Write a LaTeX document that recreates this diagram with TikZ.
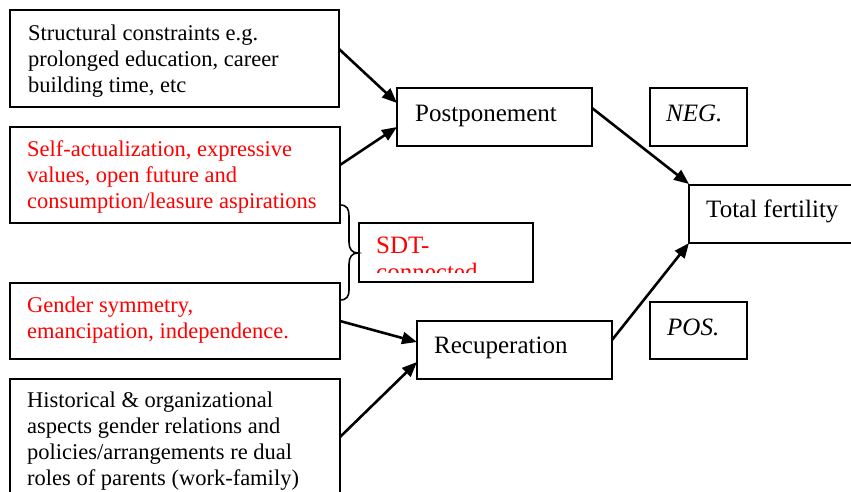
\documentclass[tikz,border=0pt]{standalone}
\usepackage{fontspec}
\setmainfont{Liberation Serif}
\usetikzlibrary{arrows.meta,calc}
\definecolor{txtred}{RGB}{255,0,0}
\begin{document}
\begin{tikzpicture}[x=1pt,y=-1pt,
  box/.style={draw=black,line width=1.8pt,anchor=north west,inner sep=0pt,outer sep=0pt},
  txt/.style={anchor=base west,inner sep=0pt,align=left,font=\fontsize{22.5}{25.8}\selectfont},
  bigtxt/.style={txt,font=\fontsize{25}{27}\selectfont},
  redtxt/.style={txt,text=txtred},
  arr/.style={line width=2.6pt,-{Triangle[length=15pt,width=12pt]}},
  bracepath/.style={line width=1.6pt}
]
\clip (0,0) rectangle (851,491);
\fill[white] (0,0) rectangle (851,491);

% boxes
\node[box,minimum width=329pt,minimum height=97pt] (b1) at (10,10) {};
\node[box,minimum width=330pt,minimum height=96pt] (b2) at (10,127) {};
\node[box,minimum width=330pt,minimum height=76pt] (b3) at (10,283) {};
\node[box,minimum width=330pt,minimum height=140pt] (b4) at (10,379) {};
\node[box,minimum width=174pt,minimum height=59pt] (sdt) at (359,223) {};
\node[box,minimum width=195pt,minimum height=58pt] (post) at (397,88) {};
\node[box,minimum width=195pt,minimum height=58pt] (recup) at (417,321) {};
\node[box,minimum width=97pt,minimum height=58pt] (neg) at (650,88) {};
\node[box,minimum width=190pt,minimum height=58pt] (tf) at (689,185) {};
\node[box,minimum width=97pt,minimum height=57pt] (pos) at (650,302) {};

% texts (base anchor = baseline of the last line)
\node[txt] (t1) at (28,92) {Structural constraints e.g.\\prolonged education, career\\building time, etc};
\node[redtxt] (t2) at (27,208) {Self-actualization, expressive\\values, open future and\\consumption/leasure aspirations};
\node[redtxt] (t3) at (27,338) {Gender symmetry,\\emancipation, independence.};
\node[txt] (t4) at (27,485) {Historical \& organizational\\aspects gender relations and\\policies/arrangements re dual\\roles of parents (work-family)};
\begin{scope}
  \clip (360,224) rectangle (532,272);
  \node[bigtxt,text=txtred] (t5) at (376,280) {SDT-\\connected};
\end{scope}
\node[bigtxt] (t6) at (415,121) {Postponement};
\node[bigtxt] (t7) at (434,353) {Recuperation};
\node[bigtxt] (t8) at (666,121) {\itshape NEG.};
\node[bigtxt] (t9) at (706,217) {Total fertility};
\node[bigtxt] (t10) at (667,335) {\itshape POS.};

% brace
\draw[bracepath] (340,205) .. controls (347,205) and (349,209) .. (349,216) -- (349,242)
  .. controls (349,249) and (352,253) .. (358,253)
  .. controls (352,253) and (349,257) .. (349,264) -- (349,290)
  .. controls (349,296) and (347,300) .. (340,300);

% arrows
\draw[arr] ($(b1.north east)+(0,39)$) -- ($(post.north west)+(0,15)$);
\draw[arr] ($(b2.north east)+(0,38)$) -- ($(post.north west)+(0,39)$);
\draw[arr] ($(b3.north east)+(0,38)$) -- ($(recup.north west)+(0,21)$);
\draw[arr] ($(b4.north east)+(0,58)$) -- ($(recup.north west)+(0,41)$);
\draw[arr] ($(post.north east)+(0,20)$) -- ($(tf.north west)+(0,-1)$);
\draw[arr] ($(recup.north east)+(0,19)$) -- (tf.south west);
\end{tikzpicture}
\end{document}
